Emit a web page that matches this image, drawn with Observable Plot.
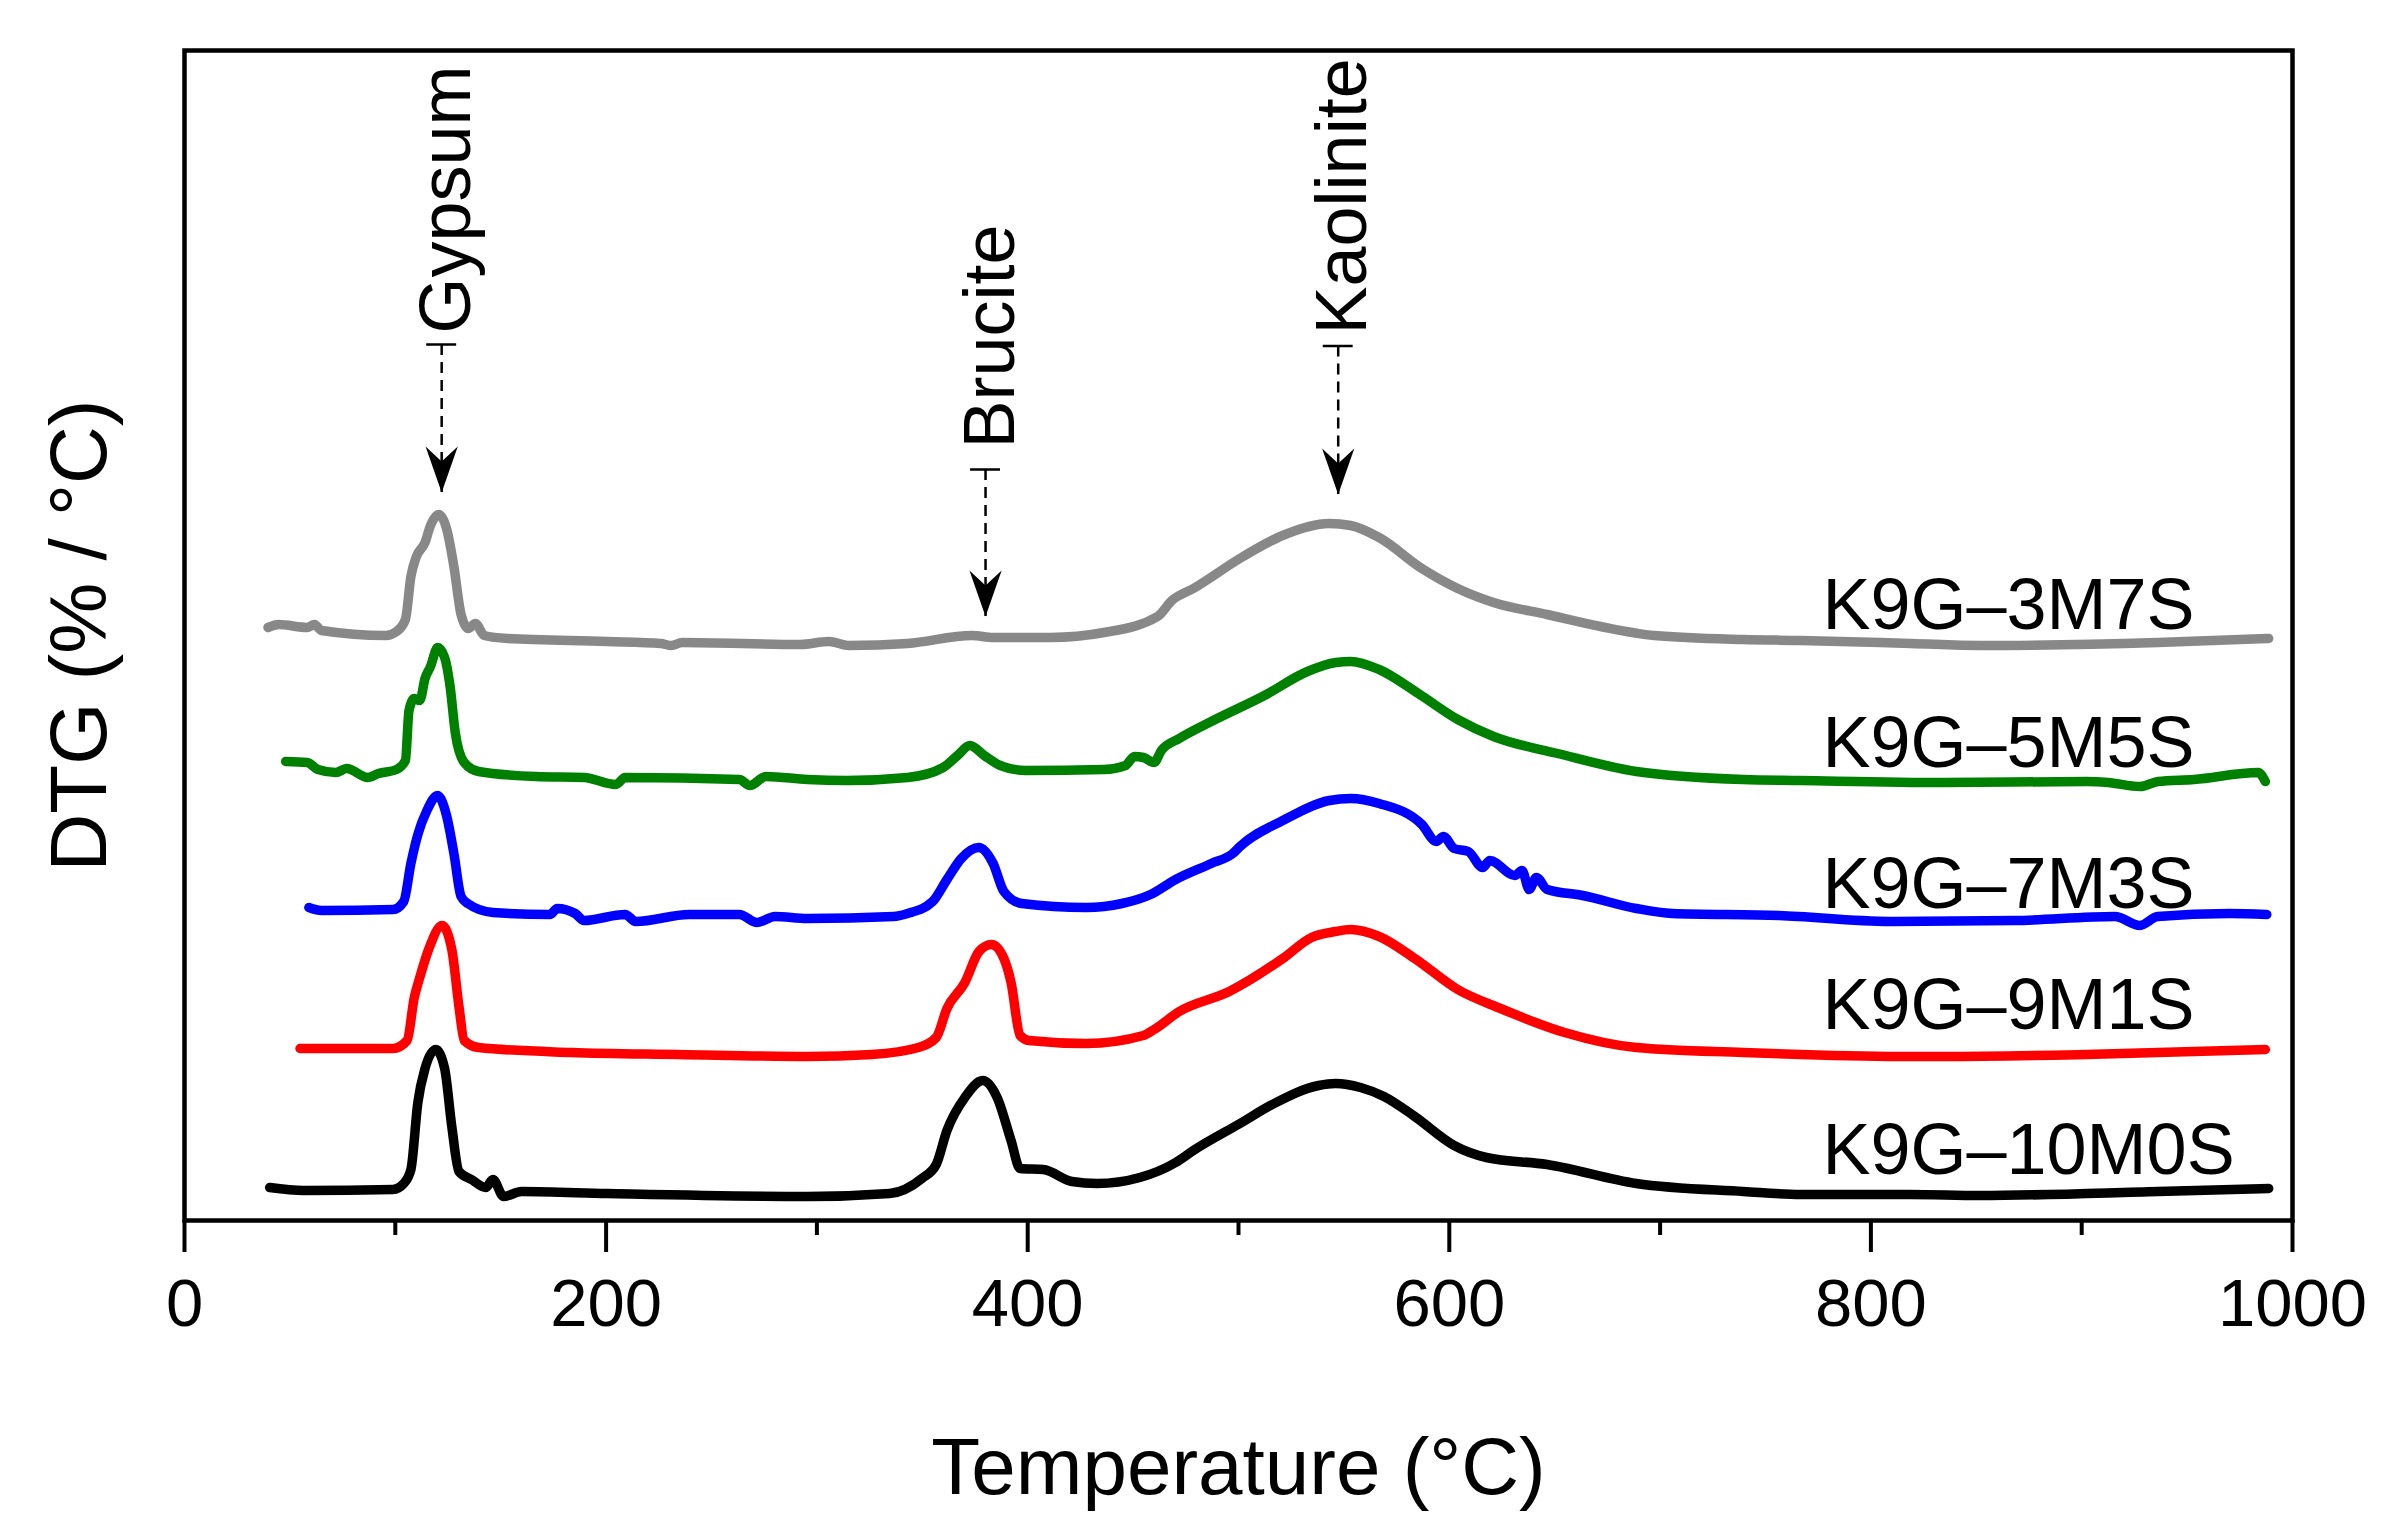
<!DOCTYPE html>
<html>
<head>
<meta charset="utf-8">
<script src="https://cdn.jsdelivr.net/npm/d3@7"></script>
<script src="https://cdn.jsdelivr.net/npm/@observablehq/plot@0.6"></script>
<style>
  html, body { margin: 0; padding: 0; background: white; }
</style>
</head>
<body>
<div id="chart"></div>
<script>
// temperature (°C), DTG (arbitrary offset units)
const s10M0S = [
  [40.4, 0.33], [56.5, 0.30], [98.9, 0.31], [104, 0.37], [107.4, 0.51], [110.7, 1.18],
  [114.1, 1.52], [119.2, 1.71], [123.4, 1.52], [126.8, 0.94], [130.2, 0.49], [136.1, 0.41],
  [142.9, 0.33], [146.3, 0.41], [151.4, 0.24], [159.9, 0.29], [200.5, 0.27], [295.5, 0.24],
  [334.5, 0.27], [349.8, 0.42], [356.6, 0.56], [361.7, 0.90], [370.2, 1.23], [378.7, 1.40],
  [385.5, 1.23], [392.1, 0.80], [396.4, 0.52], [407.4, 0.51], [421, 0.39], [432.9, 0.37],
  [453.2, 0.43], [470.2, 0.58], [478.6, 0.70], [500.7, 0.97], [516, 1.16], [538, 1.35],
  [546, 1.37], [557.9, 1.33], [569, 1.24], [583.6, 1.04], [602.3, 0.75], [617.6, 0.63],
  [646.4, 0.56], [688.7, 0.37], [739.5, 0.29], [766.7, 0.26], [819, 0.26], [851.5, 0.25],
  [936.2, 0.29], [988.7, 0.32]
];
const s9M1S = [
  [54.8, 1.72], [98.9, 1.72], [105.6, 1.80], [109, 2.23], [111.6, 2.43], [115.8, 2.71],
  [122.2, 2.95], [126.8, 2.71], [130.2, 2.14], [132.7, 1.80], [139.5, 1.73], [183.6, 1.68],
  [234.4, 1.66], [295.5, 1.64], [326, 1.66], [348.1, 1.73], [356.6, 1.83], [361.7, 2.12],
  [370.2, 2.38], [376.9, 2.69], [382.8, 2.76], [388.7, 2.62], [392.1, 2.38], [396.4, 1.85],
  [400.6, 1.80], [427.7, 1.77], [454.9, 1.85], [460, 1.91], [471.9, 2.09], [495.6, 2.29],
  [521, 2.62], [534.6, 2.83], [546, 2.89], [553.2, 2.91], [566.7, 2.84], [583.6, 2.62],
  [604, 2.31], [624.3, 2.12], [654.7, 1.88], [688.7, 1.73], [739.5, 1.68], [766.7, 1.66],
  [819, 1.64], [834.5, 1.64], [902.3, 1.66], [987.1, 1.71]
];
const s7M3S = [
  [59, 3.13], [65, 3.10], [98.9, 3.11], [104, 3.19], [107.4, 3.57], [110.7, 3.86],
  [115, 4.10], [120, 4.25], [124.3, 4.05], [127.8, 3.67], [131.2, 3.24], [134.4, 3.17],
  [146.3, 3.08], [173.4, 3.06], [176.8, 3.12], [185.3, 3.07], [189.5, 3.00], [209, 3.06],
  [214.1, 2.99], [239.4, 3.06], [263.2, 3.06], [271.6, 2.98], [280.1, 3.04], [295.5, 3.02],
  [336.3, 3.04], [343, 3.07], [354.9, 3.19], [361.7, 3.41], [368.5, 3.62], [376.8, 3.73],
  [383.6, 3.57], [388.7, 3.29], [397.2, 3.17], [427.7, 3.13], [444.7, 3.17], [458.3, 3.26],
  [470.2, 3.41], [487.1, 3.57], [497.3, 3.67], [500.7, 3.74], [521, 4.00], [543.1, 4.20],
  [553.2, 4.22], [566.7, 4.17], [587, 3.96], [593.8, 3.79], [597.2, 3.84], [602.3, 3.72],
  [609, 3.69], [615.8, 3.53], [619.2, 3.60], [631.1, 3.45], [634.5, 3.50], [637.9, 3.31],
  [641.3, 3.43], [646.4, 3.31], [663.3, 3.25], [688.7, 3.12], [705.7, 3.07], [756.5, 3.05],
  [809, 2.99], [868.3, 3.00], [915.8, 3.04], [927.6, 2.95], [936, 3.04], [970, 3.07],
  [987.8, 3.06]
];
const s5M5S = [
  [48, 4.59], [58.2, 4.58], [63.3, 4.51], [71.8, 4.48], [76.9, 4.52], [87, 4.43],
  [92, 4.47], [100.6, 4.51], [104.8, 4.60], [106.5, 5.10], [109, 5.22], [111.6, 5.20],
  [114.1, 5.42], [116.7, 5.54], [120.1, 5.73], [123.4, 5.63], [126, 5.34], [128.5, 4.87],
  [132.7, 4.58], [139.5, 4.49], [166.6, 4.44], [189.5, 4.43], [204.7, 4.36], [209, 4.43],
  [263.2, 4.41], [268.2, 4.35], [275.8, 4.44], [295.5, 4.41], [314.1, 4.40], [343, 4.43],
  [359.9, 4.53], [366.7, 4.65], [372.6, 4.75], [379.4, 4.65], [387, 4.55], [398.9, 4.50],
  [436.2, 4.51], [446.4, 4.55], [450.6, 4.64], [454.9, 4.63], [460, 4.58], [463.4, 4.70],
  [471.9, 4.82], [487.1, 4.99], [512.3, 5.25], [532.7, 5.49], [546.2, 5.58], [553.2, 5.59],
  [566.7, 5.51], [585.3, 5.27], [604, 5.01], [621, 4.84], [651.4, 4.67], [688.7, 4.49],
  [739.5, 4.41], [766.7, 4.40], [834.5, 4.38], [902.3, 4.39], [912.4, 4.38], [927.6, 4.34],
  [936.2, 4.39], [953.2, 4.41], [983.7, 4.48], [987.1, 4.39]
];
const s3M7S = [
  [39.6, 5.93], [44.7, 5.96], [58.2, 5.93], [61.6, 5.96], [65, 5.90], [95.5, 5.85],
  [100.6, 5.89], [104.8, 6.01], [107.4, 6.44], [110, 6.64], [114.1, 6.78], [116.7, 6.95],
  [120.6, 7.06], [124.3, 6.92], [127.8, 6.54], [131.2, 6.06], [134.6, 5.92], [138, 5.97],
  [142.2, 5.85], [153.2, 5.82], [200.5, 5.79], [225.9, 5.77], [231, 5.75], [236, 5.78],
  [292.1, 5.76], [305.7, 5.79], [315.2, 5.75], [343, 5.77], [373.5, 5.85], [383.7, 5.83],
  [410.7, 5.83], [436.2, 5.88], [461.6, 6.04], [468.4, 6.20], [478.6, 6.32], [502.2, 6.64],
  [520.9, 6.85], [542.9, 6.97], [553.2, 6.95], [566.7, 6.83], [587, 6.52], [604, 6.32],
  [621, 6.18], [646.4, 6.06], [671.8, 5.94], [697.2, 5.85], [739.5, 5.81], [766.7, 5.80],
  [819, 5.77], [851.5, 5.75], [936.2, 5.78], [988.7, 5.82]
];

const samples = ["K9G–10M0S", "K9G–9M1S", "K9G–7M3S", "K9G–5M5S", "K9G–3M7S"];
const seriesList = [s10M0S, s9M1S, s7M3S, s5M5S, s3M7S];

// label anchor (data units) for each sample name
const labelT = 777;
const labelY = [0.465, 1.92, 3.13, 4.54, 5.92];

// peak annotations: arrow x, cap, arrow tip, text start
const peakNames = ["Gypsum", "Brucite", "Kaolinite"];
const peakT = [122, 380, 547.3];
const peakCap = [8.76, 7.51, 8.745];
const peakTip = [7.28, 6.04, 7.26];
const peakText = [8.87, 7.72, 8.86];

const majorTicks = [0, 200, 400, 600, 800, 1000];
const minorTicks = [100, 300, 500, 700, 900];

const rows = seriesList.flatMap((s, i) => s.map(([T, v]) => ({sample: samples[i], T, v})));
const labels = samples.map((name, i) => ({name, T: labelT, y: labelY[i]}));
const peaks = peakNames.map((name, i) => ({name, T: peakT[i], cap: peakCap[i], tip: peakTip[i], start: peakText[i]}));

// filled, barbed arrow head pointing down, tip at the origin
const barbHead = {
  draw(ctx, size) {
    const r = Math.sqrt(size / Math.PI);
    ctx.moveTo(0, 0);
    ctx.lineTo(-0.7 * r, -2 * r);
    ctx.lineTo(0, -1.35 * r);
    ctx.lineTo(0.7 * r, -2 * r);
    ctx.closePath();
  }
};

const chart = Plot.plot({
  width: 2400,
  height: 1539,
  marginLeft: 184,
  marginRight: 108,
  marginTop: 50,
  marginBottom: 319,
  x: {domain: [0, 1000], label: null},
  y: {domain: [0, 11.7], axis: null},
  color: {
    domain: samples,
    range: ["#000000", "#ff0000", "#0000ff", "#008000", "#888888"]
  },
  style: {
    background: "white",
    color: "black",
    fontFamily: "'Liberation Sans', Arial, sans-serif"
  },
  marks: [
    Plot.line(rows, {
      x: "T", y: "v", z: "sample", stroke: "sample",
      strokeWidth: 9.5, curve: "monotone-x", strokeLinejoin: "round", strokeLinecap: "round"
    }),
    Plot.text(labels, {
      x: "T", y: "y", text: "name", textAnchor: "start", lineAnchor: "bottom",
      fontSize: 72, fill: "black"
    }),
    Plot.ruleX(peaks, {x: "T", y1: "cap", y2: "tip", strokeWidth: 2.5, strokeDasharray: "11,7"}),
    Plot.ruleY(peaks, {y: "cap", x1: d => d.T - 7.1, x2: d => d.T + 7.1, strokeWidth: 2.5}),
    Plot.dot(peaks, {x: "T", y: "tip", symbol: barbHead, r: 23, fill: "black", stroke: "none"}),
    Plot.text(peaks, {
      x: "T", y: "start", text: "name", rotate: -90, textAnchor: "start",
      lineAnchor: "middle", fontSize: 72, dx: 5, fill: "black"
    }),
    Plot.frame({strokeWidth: 4.5}),
    Plot.axisX(majorTicks, {
      tickSize: 32, tickPadding: 26, strokeWidth: 4, fontSize: 67, label: null,
      tickFormat: d => String(d)
    }),
    Plot.axisX(minorTicks, {tickSize: 15, strokeWidth: 4, text: null, label: null}),
    Plot.text(["Temperature (°C)"], {
      frameAnchor: "bottom", dy: 273, lineAnchor: "bottom", fontSize: 80, fill: "black"
    }),
    Plot.text(["DTG (% / °C)"], {
      frameAnchor: "left", dx: -79, rotate: -90, lineAnchor: "bottom",
      textAnchor: "middle", fontSize: 80, fill: "black"
    })
  ]
});

d3.select("#chart").append(() => chart);
</script>
</body>
</html>
